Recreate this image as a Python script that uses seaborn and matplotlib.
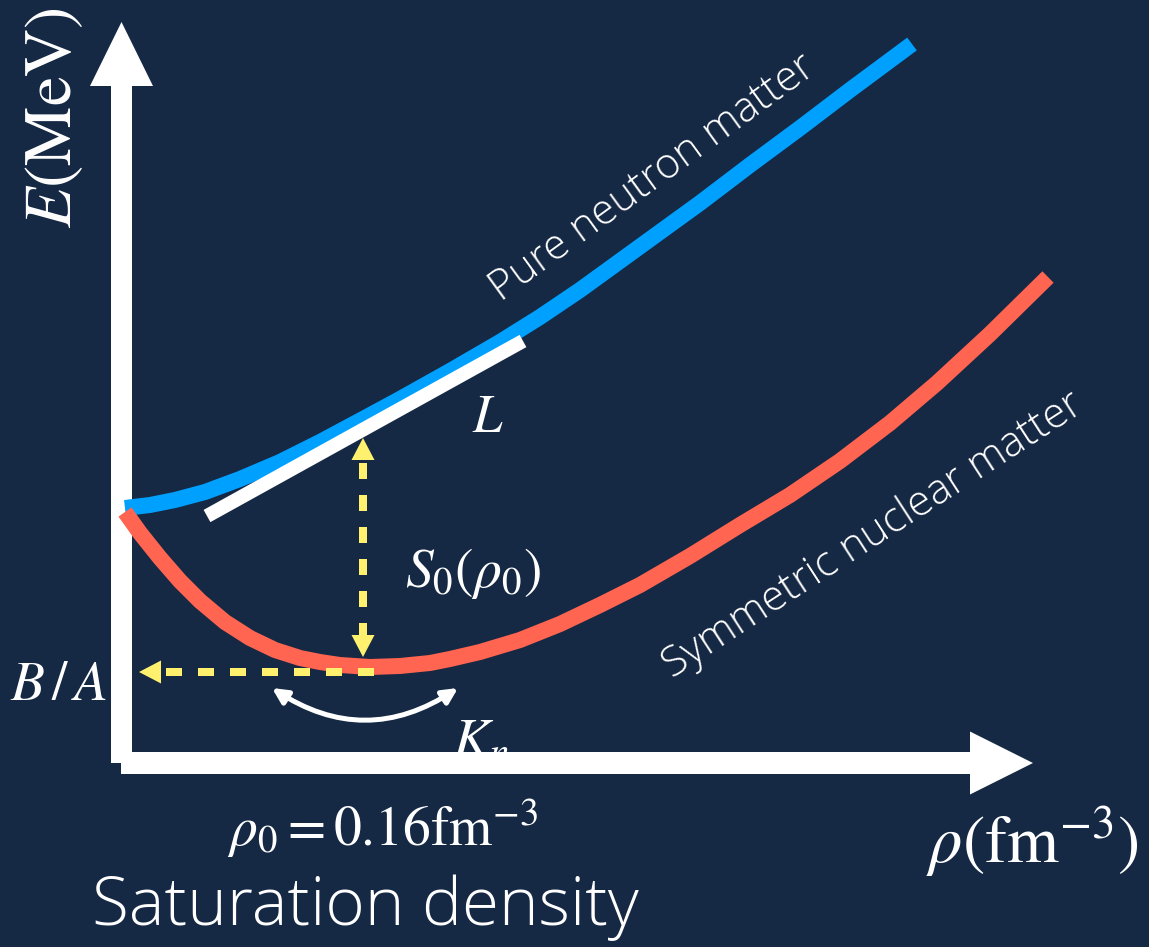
import matplotlib
matplotlib.use("Agg")
import matplotlib.pyplot as plt
from matplotlib.patches import FancyArrowPatch, ArrowStyle
import pandas as pd
import seaborn as sns

# ---- schematic data (horizontal: density position, vertical: energy position, screen-down) ----
rho_pnm = [125, 150, 175, 205, 240, 280, 320, 363, 400, 450, 500, 540, 580, 620,
           660, 700, 750, 800, 850, 912]
e_pnm = [508, 505, 500, 492, 479, 462, 442, 419, 399, 371, 342, 317, 290, 261,
         232, 203, 165, 128, 90, 44]

rho_snm = [125, 140, 160, 180, 200, 225, 250, 275, 300, 320, 340, 370, 400, 430,
           450, 480, 520, 560, 600, 640, 690, 740, 790, 840, 890, 937, 990, 1048]
e_snm = [512, 533, 558, 581, 601, 622, 638, 650, 658, 662, 665, 667, 666, 663,
         659, 652, 640, 624, 605, 585, 556, 525, 495, 461, 423, 383, 334, 277]

# tangent (slope L) at saturation
rho_tan = [207, 523]
e_tan = [516, 341]

rho_sat = 363          # saturation density position
e_sat_pnm = 438        # bottom of the tangent at saturation
e_sat_snm = 657        # minimum of symmetric matter
e_ba = 672             # binding energy level

BG = "#152844"
BLUE = "#00a0ff"
RED = "#ff6550"
YELLOW = "#fff06e"
WHITE = "#ffffff"

PX = 0.72  # points per pixel at 100 dpi

sns.set_theme(style="white")
plt.rcParams["mathtext.fontset"] = "stix"
plt.rcParams["font.family"] = ["Open Sans", "DejaVu Sans"]

fig = plt.figure(figsize=(11.49, 9.47), dpi=100, facecolor=BG)
ax = fig.add_axes([0, 0, 1, 1])
ax.set_facecolor(BG)

# K_n sits partly behind the density axis
ax.text(452, 756, r"$K_n$", color=WHITE, fontsize=40, ha="left", va="baseline", zorder=1)

# axes drawn as thick arrows
ax.add_patch(FancyArrowPatch((121.5, 763), (121.5, 22),
                             arrowstyle=ArrowStyle.Simple(head_length=64 * PX, head_width=63 * PX,
                                                          tail_width=21 * PX),
                             mutation_scale=1, color=WHITE, lw=0, shrinkA=0, shrinkB=0, zorder=2))
ax.add_patch(FancyArrowPatch((121, 763), (1033, 763),
                             arrowstyle=ArrowStyle.Simple(head_length=63 * PX, head_width=63 * PX,
                                                          tail_width=22 * PX),
                             mutation_scale=1, color=WHITE, lw=0, shrinkA=0, shrinkB=0, zorder=2))

# energy curves
pnm = pd.DataFrame({"rho": rho_pnm, "E": e_pnm})
sns.lineplot(data=pnm, x="rho", y="E", ax=ax, color=BLUE, linewidth=16 * PX,
             sort=False, solid_capstyle="butt", solid_joinstyle="round", zorder=3)
snm = pd.DataFrame({"rho": rho_snm, "E": e_snm})
sns.lineplot(data=snm, x="rho", y="E", ax=ax, color=RED, linewidth=16 * PX,
             sort=False, solid_capstyle="butt", solid_joinstyle="round", zorder=3)
sns.lineplot(x=rho_tan, y=e_tan, ax=ax, color=WHITE, linewidth=14 * PX,
             sort=False, solid_capstyle="butt", zorder=4)
ax.set_xlim(0, 1149)
ax.set_ylim(947, 0)
ax.axis("off")

# yellow dashed arrows
head = dict(arrowstyle=ArrowStyle("-|>", head_length=22 * PX, head_width=11.5 * PX),
            mutation_scale=1, color=YELLOW, lw=0, shrinkA=0, shrinkB=0)
ax.plot([rho_sat, rho_sat], [e_sat_pnm + 25, e_sat_snm - 22], color=YELLOW, lw=8 * PX,
        linestyle=(0, (2, 2)), zorder=5)
ax.annotate("", xy=(rho_sat, e_sat_pnm), xytext=(rho_sat, e_sat_pnm + 30), arrowprops=head, zorder=5)
ax.annotate("", xy=(rho_sat, e_sat_snm), xytext=(rho_sat, e_sat_snm - 30), arrowprops=head, zorder=5)
ax.plot([374, 166], [e_ba, e_ba], color=YELLOW, lw=8 * PX, linestyle=(0, (2, 2)), zorder=5)
ax.annotate("", xy=(139, e_ba), xytext=(170, e_ba), arrowprops=head, zorder=5)

# curvature arrow
ax.add_patch(FancyArrowPatch((272, 688), (458, 688), connectionstyle="arc3,rad=0.33",
                             arrowstyle=ArrowStyle("<|-|>", head_length=9, head_width=4.5),
                             mutation_scale=1, color=WHITE, lw=5 * PX, shrinkA=0, shrinkB=0,
                             zorder=5))

# labels
ax.text(53, 118, r"$E(\mathrm{MeV})$", color=WHITE, fontsize=48, rotation=90,
        ha="center", va="center")
ax.text(1032, 842, r"$\rho(\mathrm{fm}^{-3})$", color=WHITE, fontsize=48,
        ha="center", va="center")
ax.text(383, 828, r"$\rho_0 = 0.16\mathrm{fm}^{-3}$", color=WHITE, fontsize=40,
        ha="center", va="center")
ax.text(365, 908, "Saturation density", color=WHITE, fontsize=48.5, fontweight="light",
        ha="center", va="center")
ax.text(473, 572, r"$S_0(\rho_0)$", color=WHITE, fontsize=40, ha="center", va="center")
ax.text(488, 418, r"$L$", color=WHITE, fontsize=38, ha="center", va="center")
ax.text(58, 685, r"$B\,/\,A$", color=WHITE, fontsize=40, ha="center", va="center")
ax.text(653, 178, "Pure neutron matter", color=WHITE, fontsize=30.5, fontweight="light",
        rotation=36, rotation_mode="anchor", ha="center", va="center")
ax.text(873, 535, "Symmetric nuclear matter", color=WHITE, fontsize=30.5, fontweight="light",
        rotation=33, rotation_mode="anchor", ha="center", va="center")

fig.savefig("out.png", dpi=100, facecolor=BG)
